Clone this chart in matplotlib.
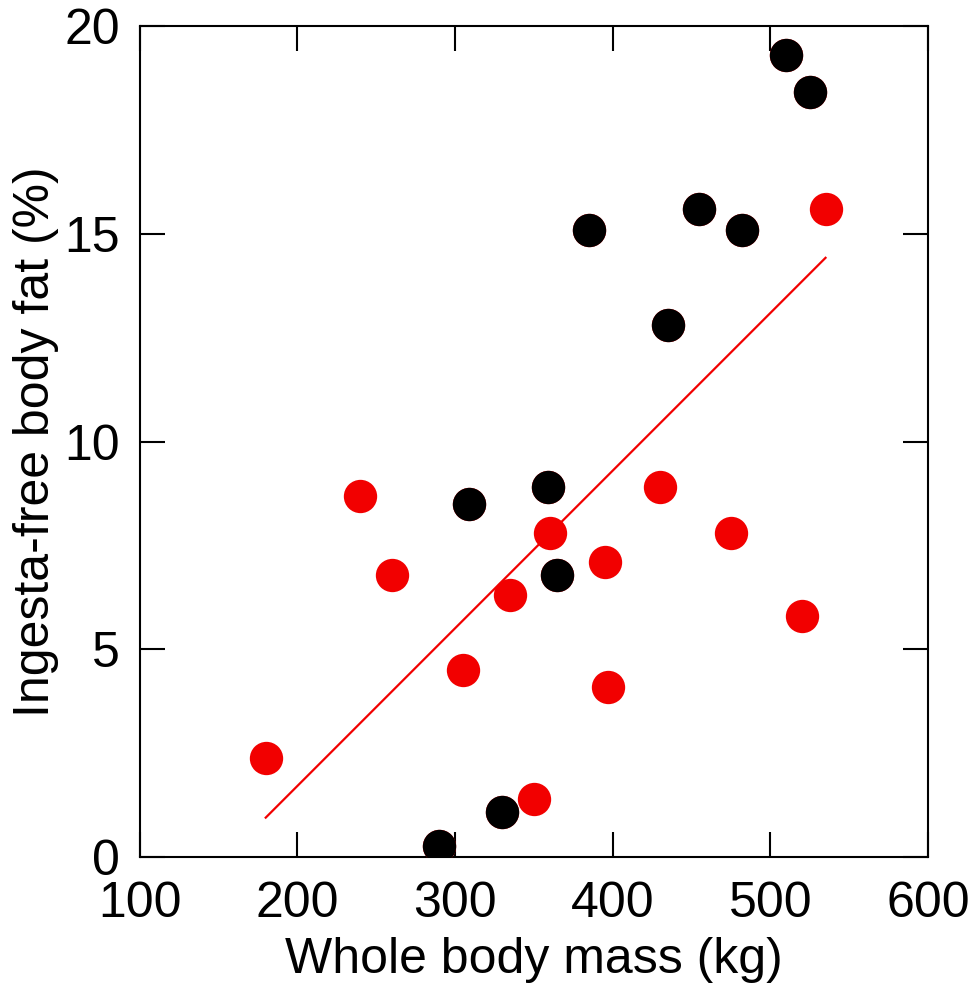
import numpy as np
import matplotlib
matplotlib.use("Agg")
import matplotlib.pyplot as plt

plt.rcParams['font.family'] = ['Liberation Sans', 'DejaVu Sans']

# red: animals shown only in red
red_mass = [180, 240, 260, 305, 335, 350, 360, 395, 397, 430, 475, 520, 535]
red_fat = [2.4, 8.7, 6.8, 4.5, 6.3, 1.4, 7.8, 7.1, 4.1, 8.9, 7.8, 5.8, 15.6]

# black: animals drawn in black (on top of red)
black_mass = [290, 330, 309, 359, 365, 385, 435, 455, 482, 510, 525]
black_fat = [0.27, 1.1, 8.5, 8.9, 6.8, 15.1, 12.8, 15.6, 15.1, 19.3, 18.4]

x_ticks = [100, 200, 300, 400, 500, 600]
y_ticks = [0, 5, 10, 15, 20]

red = '#f20000'

fig = plt.figure(figsize=(9.78, 9.92), dpi=100)
ax = fig.add_axes([0.1427, 0.1358, 0.8062, 0.8380])

# regression over all points
all_x = np.array(red_mass + black_mass, dtype=float)
all_y = np.array(red_fat + black_fat, dtype=float)
slope, icpt = np.polyfit(all_x, all_y, 1)
xs = np.array([all_x.min(), all_x.max()])
ax.plot(xs, slope * xs + icpt, color=red, lw=1.6, zorder=2)

ax.plot(red_mass, red_fat, 'o', ms=24, color=red, mec='none', zorder=3)
ax.plot(black_mass, black_fat, 'o', ms=24, color=red, mec='none', zorder=3)
ax.plot(black_mass, black_fat, 'o', ms=24, color='black', mec='none', zorder=4)

ax.set_xlim(100, 600)
ax.set_ylim(0, 20)
ax.set_xticks(x_ticks)
ax.set_yticks(y_ticks)
ax.tick_params(direction='in', length=18, width=1.5, labelsize=36,
               top=True, right=True)
ax.tick_params(axis='x', pad=17)
ax.tick_params(axis='y', pad=14)
for s in ax.spines.values():
    s.set_linewidth(1.5)

ax.set_xlabel('Whole body mass (kg)', fontsize=36, labelpad=7)
ax.set_ylabel('Ingesta-free body fat (%)', fontsize=36, labelpad=4)

fig.savefig('out.png', dpi=100)
